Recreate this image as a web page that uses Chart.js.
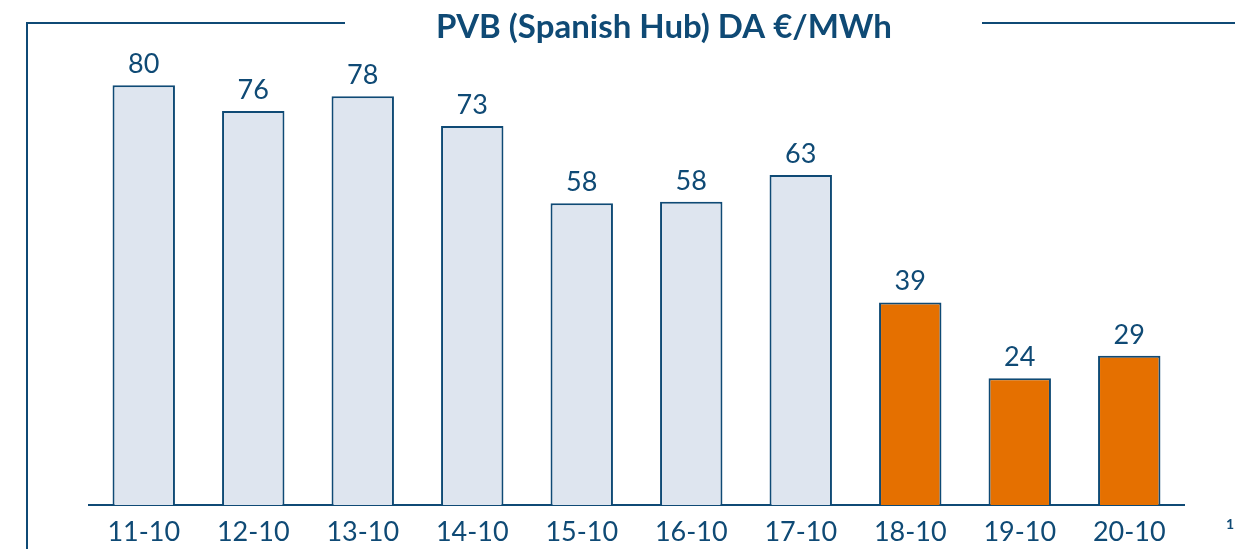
<!DOCTYPE html>
<html>
<head>
<meta charset="utf-8">
<script src="https://cdn.jsdelivr.net/npm/chart.js@4"></script>
<style>
  html, body { margin: 0; padding: 0; background: #fff; }
  canvas { display: block; }
</style>
</head>
<body>
<canvas id="grafico" width="1235" height="549"></canvas>
<script>
const dias = ['11-10', '12-10', '13-10', '14-10', '15-10', '16-10', '17-10', '18-10', '19-10', '20-10'];
const precos = [80.4, 75.5, 78.3, 72.6, 57.8, 58.1, 63.2, 38.8, 24.3, 28.6];
const rotulos = ['80', '76', '78', '73', '58', '58', '63', '39', '24', '29'];
const destaque = ['18-10', '19-10', '20-10'];
const titulo = 'PVB (Spanish Hub) DA €/MWh';

const azul = '#0f4a75';
const cinza = '#dee5ef';
const laranja = '#e57000';

// moldura, título e rótulos dos valores
const extras = {
    id: 'extras',
    afterDraw(chart) {
        const ctx = chart.ctx;
        ctx.save();
        ctx.strokeStyle = azul;
        ctx.lineWidth = 2;
        ctx.beginPath();
        ctx.moveTo(27, 549);
        ctx.lineTo(27, 23);
        ctx.lineTo(345, 23);
        ctx.moveTo(982, 23);
        ctx.lineTo(1235, 23);
        ctx.stroke();

        ctx.fillStyle = azul;
        ctx.textAlign = 'center';
        ctx.textBaseline = 'middle';
        ctx.font = 'bold 33px Lato';
        ctx.fillText(titulo, 664, 27);

        ctx.font = '27px Lato';
        ctx.textBaseline = 'alphabetic';
        const meta = chart.getDatasetMeta(0);
        meta.data.forEach((bar, i) => {
            ctx.fillText(rotulos[i], bar.x, bar.y - 12);
        });

        ctx.font = 'bold 14px Lato';
        ctx.fillText('1', 1230, 529);
        ctx.restore();
    }
};

new Chart(document.getElementById('grafico'), {
    type: 'bar',
    data: {
        labels: dias,
        datasets: [{
            data: precos,
            backgroundColor: dias.map(d => destaque.includes(d) ? laranja : cinza),
            borderColor: azul,
            borderWidth: 2,
            borderSkipped: 'bottom',
            categoryPercentage: 1,
            barPercentage: 0.57
        }]
    },
    options: {
        responsive: false,
        animation: false,
        layout: {
            padding: { left: 89, right: 51, top: 35.2, bottom: 0 }
        },
        scales: {
            x: {
                grid: { display: false, drawTicks: false },
                border: { display: true, color: azul, width: 2 },
                ticks: {
                    color: azul,
                    padding: 11,
                    font: { family: 'Lato', size: 27 }
                },
                afterFit(scale) { scale.height = 44; }
            },
            y: {
                display: false,
                min: 0,
                max: 90
            }
        },
        plugins: {
            legend: { display: false },
            tooltip: { enabled: false }
        }
    },
    plugins: [extras]
});
</script>
</body>
</html>
